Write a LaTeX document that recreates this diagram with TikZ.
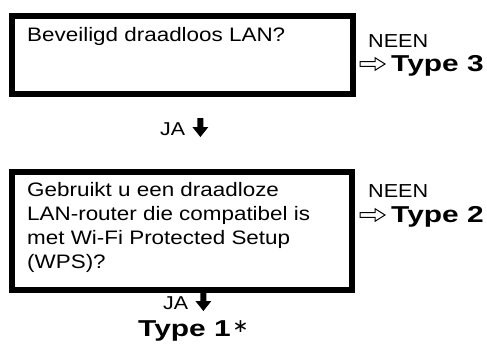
\documentclass[tikz,border=0pt]{standalone}
\usepackage{fontspec}
\setmainfont[FakeStretch=1.15]{Liberation Sans}
\newfontfamily\typefont[FakeStretch=1.3]{Liberation Sans}
\newfontfamily\symfont{DejaVu Sans}
\begin{document}
\begin{tikzpicture}[x=1pt,y=-1pt,
  qbox/.style={draw, line width=6pt, inner sep=0pt, anchor=north west},
  qtext/.style={anchor=north west, inner sep=0pt, align=left, font=\fontsize{19.5}{24}\selectfont},
  ans/.style={anchor=base west, inner sep=0pt, font=\fontsize{18.8}{22}\selectfont},
  res/.style={anchor=base west, inner sep=0pt, font=\typefont\bfseries\fontsize{23}{26}\selectfont},
  yes/.style={anchor=base west, inner sep=0pt, font=\fontsize{18.6}{22}\selectfont},
  downarrow/.pic={\fill (-3,-17) -- (3,-17) -- (3,-8) -- (8,-8) -- (0,2) -- (-8,-8) -- (-3,-8) -- cycle;},
  whitearrow/.pic={\draw[line width=1pt, line join=miter] (0,-2.3) -- (15,-2.3) -- (15,-6.3) -- (25,0) -- (15,6.3) -- (15,2.3) -- (0,2.3) -- cycle;},
]
\useasboundingbox (0,0) rectangle (487,356);
% question boxes
\node[qbox, minimum width=341pt, minimum height=78pt] (box1) at (9,13) {};
\node[qbox, minimum width=340pt, minimum height=118pt] (box2) at (9,169) {};
% question texts
\node[qtext] (q1) at (27,27.5) {Beveiligd draadloos LAN?};
\node[qtext] (q2) at (27,182.5) {Gebruikt u een draadloze\\LAN-router die compatibel is\\met Wi-Fi Protected Setup\\(WPS)?};
% NO answers
\node[ans] (no1) at (368,47) {NEEN};
\node[res] (r3) at (391,71) {Type 3};
\pic at ([xshift=-31pt,yshift=7pt]r3.base west) {whitearrow};
\node[ans] (no2) at (368,197) {NEEN};
\node[res] (r2) at (391,222) {Type 2};
\pic at ([xshift=-31pt,yshift=7pt]r2.base west) {whitearrow};
% YES answers
\node[yes] (ja1) at (160,135) {JA};
\pic at ([xshift=15pt]ja1.base east) {downarrow};
\node[yes] (ja2) at (163,309) {JA};
\pic at ([xshift=15pt]ja2.base east) {downarrow};
\node[res] (r1) at (138,336) {Type 1\hspace{2pt}\raisebox{4pt}{\symfont\mdseries\fontsize{19}{20}\selectfont ∗}};
\end{tikzpicture}
\end{document}
